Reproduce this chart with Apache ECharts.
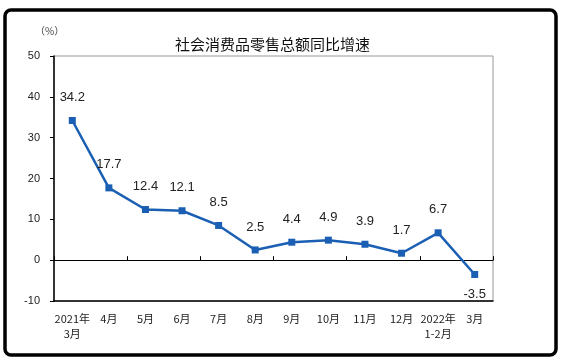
<!DOCTYPE html>
<html><head><meta charset="utf-8">
<script src="https://cdn.jsdelivr.net/npm/echarts@6/dist/echarts.min.js"></script>
<style>html,body{margin:0;padding:0;background:#fff}#c{width:561px;height:363px}</style>
</head><body><div id="c"></div>
<script>
const categories = ['2021年\n3月','4月','5月','6月','7月','8月','9月','10月','11月','12月','2022年\n1-2月','3月'];
const growth = [34.2, 17.7, 12.4, 12.1, 8.5, 2.5, 4.4, 4.9, 3.9, 1.7, 6.7, -3.5];
const yTicks = {min: -10, max: 50, interval: 10};
const titleText = '社会消费品零售总额同比增速';
const unitText = '（%）';

const chart = echarts.init(document.getElementById('c'));
const blue = '#1a5fb4';
chart.setOption({
  animation: false,
  backgroundColor: '#fff',
  graphic: [{type:'rect', shape:{x:5, y:10, width:551, height:345, r:6}, style:{fill:'#fff', stroke:'#000', lineWidth:3.5}, z:-10}],
  title: [
    {text: titleText, left: 170, top: 32, textStyle:{fontSize:15, fontWeight:'normal', color:'#111', fontFamily:'Noto Sans CJK SC'}},
    {text: unitText, left: 30, top: 21, textStyle:{fontSize:10, fontWeight:'normal', color:'#444', fontFamily:'Noto Sans CJK SC'}}
  ],
  grid: {left: 54, top: 56, right: 68, bottom: 62, show: true, borderColor: '#999', borderWidth: 1, backgroundColor: 'transparent'},
  xAxis: [
    {type:'category', data: categories, position:'bottom', axisLine:{onZero:false, lineStyle:{color:'#000', width:1.5}},
     axisTick:{show:false}, axisLabel:{color:'#222', fontSize:11, margin:10, lineHeight:15, fontFamily:'Noto Sans CJK SC', interval:0}, splitLine:{show:false}},
    {type:'category', data: categories, position:'bottom', axisLine:{onZero:true, lineStyle:{color:'#000', width:1.2}},
     axisTick:{show:true, inside:true, length:4, lineStyle:{color:'#000'}}, axisLabel:{show:false}, splitLine:{show:false}}
  ],
  yAxis: {type:'value', min: yTicks.min, max: yTicks.max, interval: yTicks.interval,
    axisLine:{show:true, lineStyle:{color:'#000', width:1.5}}, axisTick:{show:true, length:4, lineStyle:{color:'#000'}},
    axisLabel:{color:'#222', fontSize:11, margin:14, fontFamily:'Liberation Sans'}, splitLine:{show:false}},
  series: [{
    type:'line', xAxisIndex:0, data: growth.map((v,i)=>({value:v, label: v<0 ? {position:'bottom', distance:10} : {}})),
    symbol:'rect', symbolSize:7, lineStyle:{color:blue, width:2.5}, itemStyle:{color:blue},
    label:{show:true, position:'top', distance:13, fontSize:13, color:'#222', fontFamily:'Liberation Sans'}
  }]
});
</script></body></html>
